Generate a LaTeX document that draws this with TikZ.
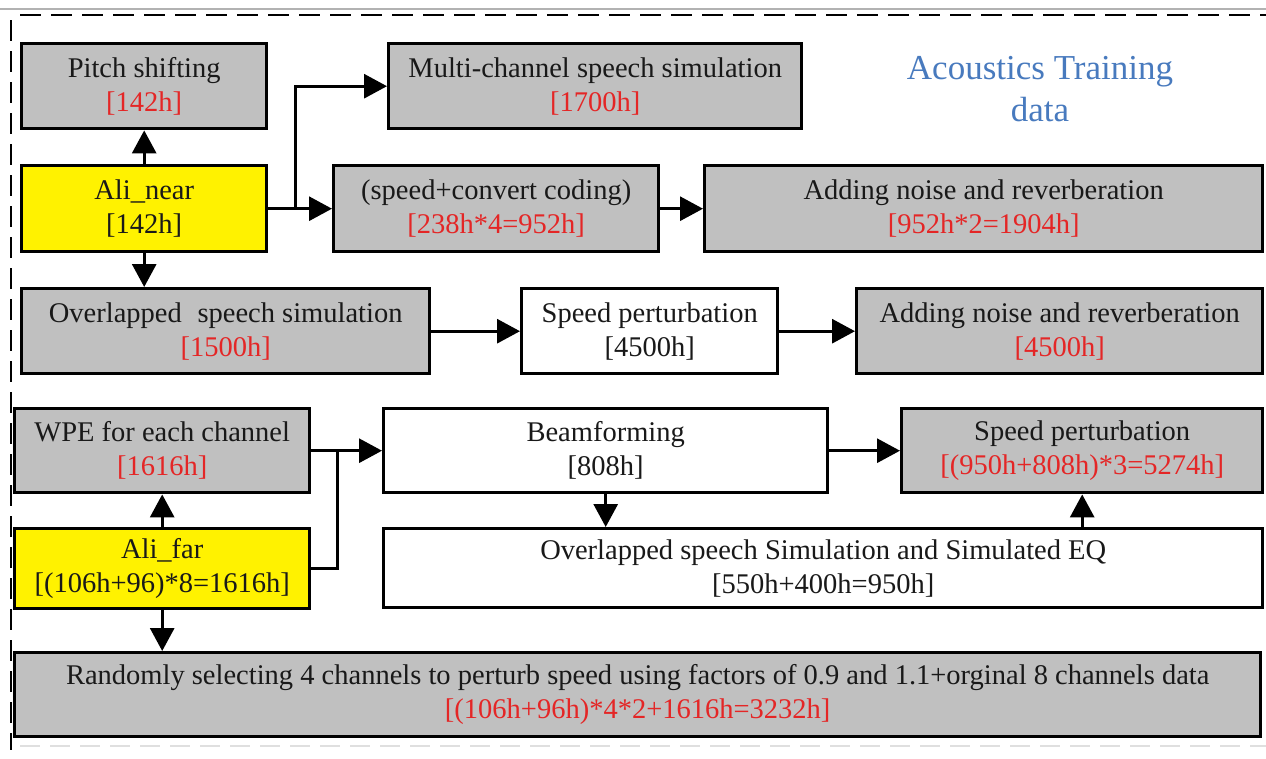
\documentclass[tikz,border=0pt]{standalone}
\usepackage{fontspec}
\setmainfont{Liberation Serif}
\usetikzlibrary{arrows.meta}
\definecolor{boxgray}{RGB}{192,192,192}
\definecolor{txtred}{RGB}{228,38,38}
\definecolor{ttlblue}{RGB}{72,122,190}
\definecolor{txtdark}{RGB}{25,25,25}
\begin{document}
\begin{tikzpicture}[x=1pt,y=-1pt,
  box/.style={draw=black,line width=3.4pt,anchor=north west,align=center,inner sep=0pt,
    text=txtdark,font=\fontsize{28.5}{34}\selectfont},
  graybox/.style={box,fill=boxgray},
  yellowbox/.style={box,fill=yellow},
  whitebox/.style={box,fill=white},
  arr/.style={line width=3pt,-{Triangle[length=23pt,width=24pt]}},
  conn/.style={line width=3pt},
  border/.style={line width=2.6pt,dash pattern=on 21pt off 10pt},
]
\fill[white] (0,0) rectangle (1266,758);
\useasboundingbox (0,0) rectangle (1266,758);
% frame
\draw[gray!60,line width=1.2pt] (0,9) -- (1266,9);
\draw[border] (20,15) -- (1266,15);
\draw[border] (11,20) -- (11,750);
\draw[gray!25,line width=1.5pt,dash pattern=on 20pt off 10pt] (20,746) -- (1266,746);
% title
\node[text=ttlblue,align=center,font=\fontsize{35}{42}\selectfont] (title) at (1040,89) {Acoustics Training\\data};
% boxes
\node[graybox,minimum width=245pt,minimum height=85pt] (pitch) at (20,42) {Pitch shifting\\\textcolor{txtred}{[142h]}};
\node[yellowbox,minimum width=245pt,minimum height=86pt] (alinear) at (20,164) {Ali\_near\\{[}142h{]}};
\node[graybox,minimum width=413pt,minimum height=85pt] (multi) at (387,42) {Multi-channel speech simulation\\\textcolor{txtred}{[1700h]}};
\node[graybox,minimum width=325pt,minimum height=86pt] (speedconv) at (332,164) {(speed+convert coding)\\\textcolor{txtred}{[238h*4=952h]}};
\node[graybox,minimum width=558pt,minimum height=86pt] (noise1) at (703,164) {Adding noise and reverberation\\\textcolor{txtred}{[952h*2=1904h]}};
\node[graybox,minimum width=408pt,minimum height=85pt] (overlap) at (20,287) {Overlapped\hspace{0.3em} speech simulation\\\textcolor{txtred}{[1500h]}};
\node[whitebox,minimum width=256pt,minimum height=85pt] (sp1) at (520,287) {Speed perturbation\\{[}4500h{]}};
\node[graybox,minimum width=406pt,minimum height=85pt] (noise2) at (855,287) {Adding noise and reverberation\\\textcolor{txtred}{[4500h]}};
\node[graybox,minimum width=295pt,minimum height=84pt] (wpe) at (13,407) {WPE for each channel\\\textcolor{txtred}{[1616h]}};
\node[whitebox,minimum width=444pt,minimum height=84pt] (beam) at (382,407) {Beamforming\\{[}808h{]}};
\node[graybox,minimum width=361pt,minimum height=84pt] (sp2) at (900,407) {Speed perturbation\\\textcolor{txtred}{[(950h+808h)*3=5274h]}};
\node[yellowbox,minimum width=295pt,minimum height=80pt] (alifar) at (13,527) {Ali\_far\\{[}(106h+96)*8=1616h{]}};
\node[whitebox,minimum width=879pt,minimum height=79pt] (eq) at (382,527) {Overlapped speech Simulation and Simulated EQ\\{[}550h+400h=950h{]}};
\node[graybox,minimum width=1246pt,minimum height=84pt] (rand) at (13,651) {Randomly selecting 4 channels to perturb speed using factors of 0.9 and 1.1+orginal 8 channels data\\\textcolor{txtred}{[(106h+96h)*4*2+1616h=3232h]}};
% connectors
\coordinate (b1) at (295,207);
\coordinate (b2) at (337,449);
\draw[arr] (alinear.north) -- (pitch.south);
\draw[arr] (alinear.east) -- (speedconv.west);
\draw[arr] (b1) |- (multi.west);
\draw[arr] (alinear.south) -- (alinear.south |- overlap.north);
\draw[arr] (speedconv.east) -- (noise1.west);
\draw[arr] (overlap.east) -- (sp1.west);
\draw[arr] (sp1.east) -- (noise2.west);
\draw[arr] (wpe.east) -- (beam.west);
\draw[conn] (alifar.east) -| (b2);
\draw[arr] (alifar.north) -- (wpe.south);
\draw[arr] (alifar.south) -- (alifar.south |- rand.north);
\draw[arr] (beam.south) -- (beam.south |- eq.north);
\draw[arr] (beam.east) -- (sp2.west);
\draw[arr] (eq.north -| sp2.south) -- (sp2.south);
\end{tikzpicture}
\end{document}
